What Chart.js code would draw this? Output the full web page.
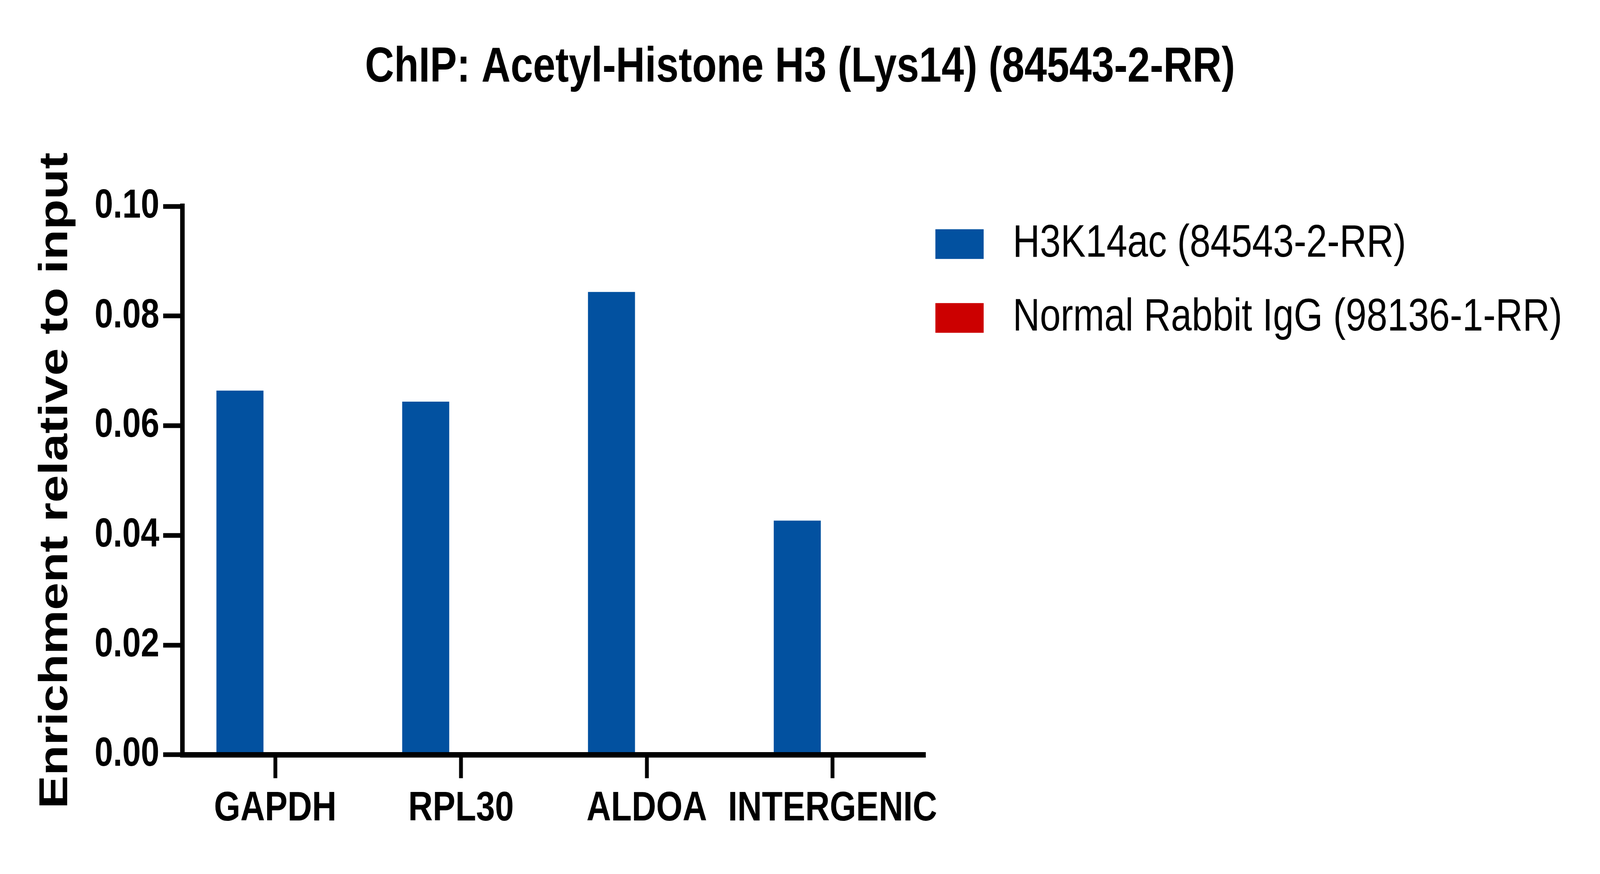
<!DOCTYPE html>
<html>
<head>
<meta charset="utf-8">
<title>ChIP: Acetyl-Histone H3 (Lys14)</title>
<script src="https://cdn.jsdelivr.net/npm/chart.js@4/dist/chart.umd.min.js"></script>
<style>
  html, body { margin: 0; padding: 0; background: #fff; overflow: hidden; }
  #chart { display: block; }
</style>
</head>
<body>
<canvas id="chart" width="5000" height="2237"></canvas>
<script>
// Data
const genes = ['GAPDH', 'RPL30', 'ALDOA', 'INTERGENIC'];
const h3k14ac = [0.0664, 0.0644, 0.0844, 0.0427];
const rabbitIgG = [0.00003, 0.00002, 0.00003, 0.0001];
const seriesNames = ['H3K14ac (84543-2-RR)', 'Normal Rabbit IgG (98136-1-RR)'];
const yTicks = [0, 0.02, 0.04, 0.06, 0.08, 0.10];

const FONT = "'Liberation Sans', Arial, Helvetica, sans-serif";

// the chart is drawn at 5000x2237; the window may be narrower, so the canvas
// is shown stretched to the whole window
const canvas = document.getElementById('chart');
canvas.style.width = (window.innerWidth || 5000) + 'px';
canvas.style.height = (window.innerHeight || 2237) + 'px';

// legend up/left a bit, title centred on the whole figure, legend text not clipped
const fixBoxes = {
    id: 'fixBoxes',
    afterLayout(chart) {
        const lg = chart.legend;
        if (lg) {
            lg.left -= 41;
            lg.top -= 34;
            lg.right = chart.width;
            lg.bottom = chart.height;
        }
        const tb = chart.titleBlock;
        if (tb) {
            tb.left = 0;
            tb.right = chart.width;
        }
    }
};

new Chart(canvas, {
    type: 'bar',
    data: {
        labels: genes,
        datasets: [
            {
                label: seriesNames[0],
                data: h3k14ac,
                backgroundColor: '#0251A0',
                borderWidth: 0,
                categoryPercentage: 0.76,
                barPercentage: 0.667
            },
            {
                label: seriesNames[1],
                data: rabbitIgG,
                backgroundColor: '#CC0000',
                borderWidth: 0,
                categoryPercentage: 0.76,
                barPercentage: 0.667
            }
        ]
    },
    options: {
        responsive: false,
        animation: false,
        devicePixelRatio: 1,
        // legend width is capped at a quarter of the width, so the right padding
        // is what puts the end of the x axis where it should be
        layout: { padding: { top: 0, left: 0, right: 1144, bottom: 88 } },
        plugins: {
            title: {
                display: true,
                text: 'ChIP: Acetyl-Histone H3 (Lys14) (84543-2-RR)',
                color: '#000',
                font: { family: FONT, size: 126, weight: 'bold' },
                padding: { top: 99, bottom: 278 }
            },
            legend: {
                position: 'right',
                align: 'start',
                fullSize: false,
                labels: {
                    color: '#000',
                    font: { family: FONT, size: 117 },
                    boxWidth: 151,
                    boxHeight: 76,
                    padding: 72,
                    generateLabels(chart) {
                        const items = Chart.defaults.plugins.legend.labels.generateLabels(chart);
                        items.forEach(it => { it.text = ' ' + it.text; it.lineWidth = 0; });
                        return items;
                    }
                }
            },
            tooltip: { enabled: false }
        },
        scales: {
            x: {
                offset: true,
                grid: {
                    display: true,
                    drawOnChartArea: false,
                    offset: false,
                    tickLength: 60,
                    tickWidth: 12,
                    tickColor: '#000'
                },
                border: { display: true, color: '#000', width: 14, z: 1 },
                ticks: {
                    color: '#000',
                    padding: 15,
                    autoSkip: false,
                    maxRotation: 0,
                    font: { family: FONT, size: 106, weight: 'bold' }
                }
            },
            y: {
                min: 0,
                max: 0.1,
                afterBuildTicks(scale) {
                    scale.ticks = yTicks.map(v => ({ value: v }));
                },
                grid: {
                    display: true,
                    drawOnChartArea: false,
                    tickLength: 60,
                    tickWidth: 12,
                    tickColor: '#000'
                },
                border: { display: true, color: '#000', width: 14, z: 1 },
                ticks: {
                    color: '#000',
                    padding: 12,
                    font: { family: FONT, size: 104, weight: 'bold' },
                    callback: v => Number(v).toFixed(2)
                },
                title: {
                    display: true,
                    text: 'Enrichment relative to input',
                    color: '#000',
                    font: { family: FONT, size: 127, weight: 'bold' },
                    padding: { top: 99, bottom: 32 }
                }
            }
        }
    },
    plugins: [fixBoxes]
});
</script>
</body>
</html>
